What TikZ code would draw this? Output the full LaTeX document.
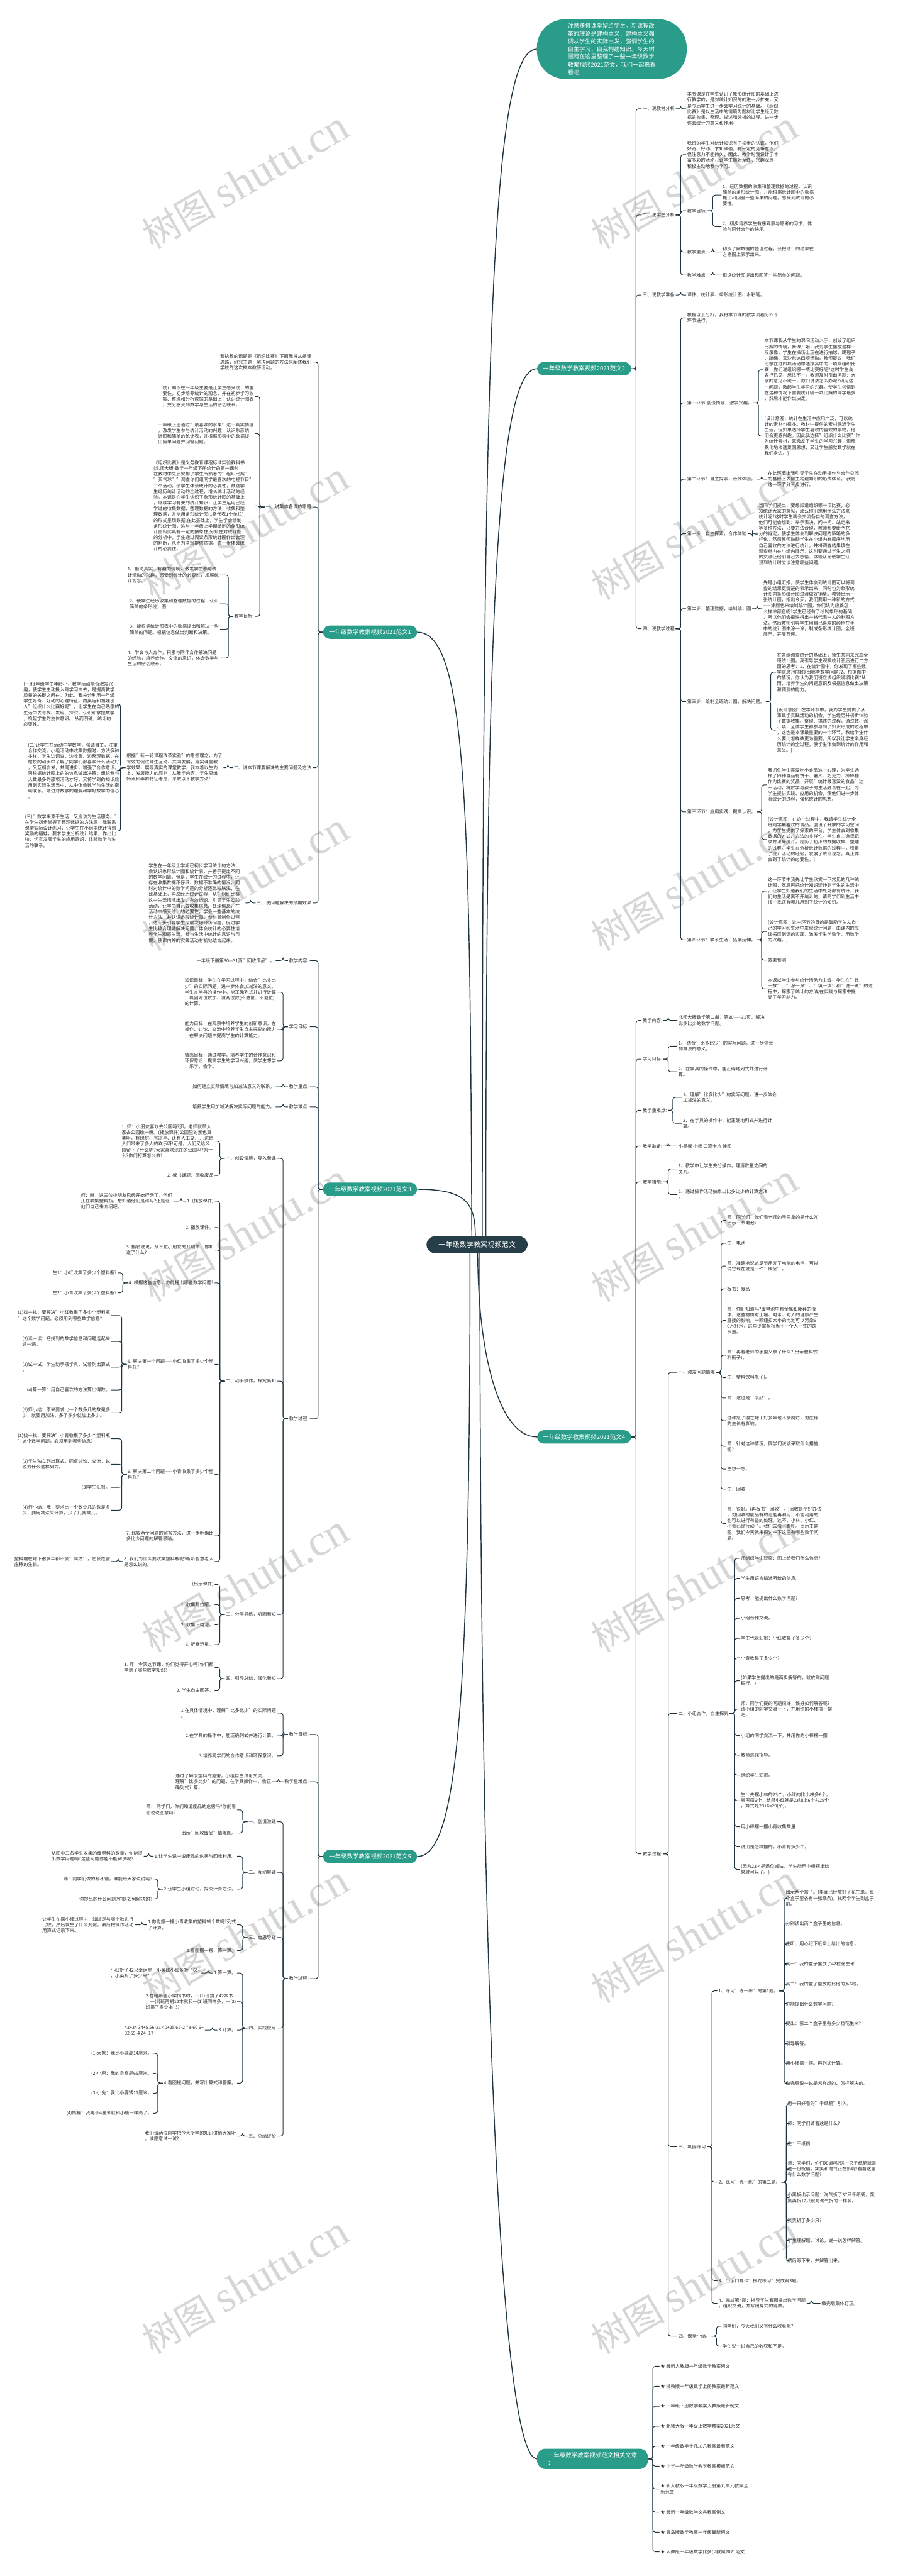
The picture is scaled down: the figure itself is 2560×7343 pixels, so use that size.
\documentclass[tikz,border=0pt]{standalone}
\usepackage{fontspec}
\setmainfont{Noto Sans CJK SC}
\newfontfamily\wmlat{Liberation Serif}
\usetikzlibrary{calc}
\definecolor{tealc}{RGB}{42,157,138}
\definecolor{darkc}{RGB}{38,62,72}
\definecolor{linec}{RGB}{30,52,62}
\definecolor{txtc}{RGB}{40,40,40}
\definecolor{wmc}{RGB}{214,214,214}
\tikzset{
  txt/.style={font=\fontsize{13}{16.4}\selectfont, text=txtc, align=left, inner xsep=3pt, inner ysep=1pt},
  W/.style={txt, anchor=west},
  E/.style={txt, anchor=east},
  br/.style={draw=linec, line width=1.8pt, rounded corners=7pt},
  mainc/.style={draw=linec, line width=2.6pt},
  tealbox/.style={fill=tealc, text=white, rounded corners=19pt, minimum width=268pt, minimum height=38pt, font=\fontsize{17}{22}\selectfont, inner sep=0pt},
  wm/.style={text=wmc, rotate=30, font=\fontsize{105}{110}\selectfont, inner sep=0pt}
}
\newcommand\kidR[2]{\foreach \c in {#2}{\draw[br] (#1.east) -- ++(14,0) |- (\c.west);}}
\newcommand\kidL[2]{\foreach \c in {#2}{\draw[br] (#1.west) -- ++(-14,0) |- (\c.east);}}
\begin{document}
\begin{tikzpicture}[x=1pt,y=-1pt]
\useasboundingbox (0,0) rectangle (2560,7343);
\fill[white] (0,0) rectangle (2560,7343);
% watermarks
\foreach \yy in {515,1515,2515,3515,4515,5515,6515}{
  \node[wm] (wmL\yy) at (700,\yy) {树图 {\wmlat\fontsize{125}{125}\selectfont shutu.cn}};
  \node[wm] (wmR\yy) at (1980,\yy) {树图 {\wmlat\fontsize{125}{125}\selectfont shutu.cn}};
}
% ---------- main nodes ----------
\node[fill=darkc, text=white, rounded corners=24pt, minimum width=288pt, minimum height=48pt, inner sep=0pt, font=\fontsize{20}{24}\selectfont] (c) at (1360,3548) {一年级数学教案视频范文};
\node[fill=tealc, text=white, rounded corners=80pt, minimum width=427pt, minimum height=170pt, inner sep=0pt, align=left, font=\fontsize{16.5}{22}\selectfont] (intro) at (1744,140) {注意多将课堂留给学生。新课程改\\革的理论是建构主义，建构主义强\\调从学生的实际出发，强调学生的\\自主学习、自我构建知识。今天树\\图网在这里整理了一些一年级数学\\教案视频2021范文，我们一起来看\\看吧!};
\node[tealbox] (R2) at (1665,1051) {一年级数学教案视频2021范文2};
\node[tealbox] (R4) at (1665,4096) {一年级数学教案视频2021范文4};
\node[tealbox] (L1) at (1055,1802) {一年级数学教案视频2021范文1};
\node[tealbox] (L3) at (1055,3390) {一年级数学教案视频2021范文3};
\node[tealbox] (L5) at (1055,5292) {一年级数学教案视频2021范文5};
\node[tealbox, minimum width=316pt, minimum height=58pt, rounded corners=24pt, align=left] (rel) at (1689,7009) {一年级数学教案视频范文相关文章\\：};
% main curves
\draw[mainc] ($(c.north)+(15,0)$) .. controls (1375,1000) and (1400,140) .. (intro.west);
\draw[mainc] ($(c.north)+(25,0)$) .. controls (1385,1700) and (1420,1051) .. (R2.west);
\draw[mainc] (L1.east) .. controls (1330,1802) and (1340,2300) .. ($(c.north)+(-15,0)$);
\draw[mainc] (L3.east) .. controls (1330,3390) and (1355,3430) .. ($(c.north)+(-5,0)$);
\draw[mainc] ($(c.south)+(2,0)$) .. controls (1362,3850) and (1420,4096) .. (R4.west);
\draw[mainc] ($(c.south)+(-20,0)$) .. controls (1340,4900) and (1300,5292) .. (L5.east);
\draw[mainc] ($(c.south)+(8,0)$) .. controls (1368,5500) and (1420,7009) .. (rel.west);
% ---------- R2 ----------
\node[W] (r2a) at (1829,310) {一、说教材分析};
\node[W] (r2b) at (1829,613) {二、说学生分析};
\node[W] (r2c) at (1829,841) {三、说教学准备};
\node[W] (r2d) at (1829,1792) {四、说教学过程};
\node[W] (r2a1) at (1956,310) {本节课是在学生认识了象形统计图的基础上进\\行教学的，是对统计知识的的进一步扩充，又\\是今后学生进一步会学习统计的基础。《组织\\比赛》是以生活中的情境为题材让学生经历数\\据的收集、整理、描述和分析的过程。进一步\\体会统计的意义和作用。};
\node[W] (r2b1) at (1956,441) {我班的学生对统计知识有了初步的认识，他们\\好奇、好动、求知欲强，有一定的竞争意识，\\但注意力不能持久，因此，教学时我设计了丰\\富多彩的活动，让学生自始至终，兴趣深厚，\\积极主动地参与学习。};
\node[W] (r2b2) at (1956,601) {教学目标:};
\node[W] (r2b3) at (1956,718) {教学重点:};
\node[W] (r2b4) at (1956,784) {教学难点:};
\node[W] (r2b21) at (2057,556) {1、经历数据的收集和整理数据的过程，认识\\简单的条形统计图，并能根据统计图中的数据\\提出和回答一些简单的问题。感受到统计的必\\要性。};
\node[W] (r2b22) at (2057,646) {2、初步培养学生有序观察与思考的习惯，体\\验与同伴合作的快乐。};
\node[W] (r2b31) at (2057,718) {初步了解数据的整理过程，会把统计的结果在\\方格图上表示出来。};
\node[W] (r2b41) at (2057,784) {根据统计图提出和回答一些简单的问题。};
\node[W] (r2c1) at (1956,841) {课件、统计表、条形统计图、水彩笔。};
\node[W] (r2d1) at (1956,906) {根据以上分析，我将本节课的教学流程分四个\\环节进行。};
\node[W] (r2d2) at (1956,1148) {第一环节:创设情境，激发兴趣。};
\node[W] (r2d3) at (1956,1366) {第二环节：自主探索，合作体验。};
\node[W] (r2d4) at (1956,1521) {第一步：自主探索，合作体验};
\node[W] (r2d5) at (1956,1735) {第二步：整理数据，绘制统计图};
\node[W] (r2d6) at (1956,2000) {第三步：绘制全班统计图，解决问题。};
\node[W] (r2d7) at (1956,2314) {第三环节：应用实践，提高认识。};
\node[W] (r2d8) at (1956,2679) {第四环节：联系生活，拓展延伸。};
\node[W] (r2d21) at (2176,1054) {本节课我从学生的课间活动入手，创设了组织\\比赛的情境，新课开始，我为学生播放这样一\\段录像，学生在操场上正在进行拍球、踢毽子\\、跳绳、丢沙包这四项活动。教师提议：我们\\班想在这四项活动中选择其中的一项来组织比\\赛，你们说组织哪一项比赛好呢?这时学生会\\各抒已见，想法不一。教师及时引出问题：大\\家的意见不统一，你们说该怎么办呢?利用这\\一问题，激起学生学习的兴趣。使学生领悟到\\在这种情况下需要统计哪一项比赛的同学最多\\，然后才能作出决定。};
\node[W] (r2d22) at (2176,1243) {[设计意图：统计在生活中应用广泛，可以统\\计的素材也很多。教材中提供的素材贴近学生\\生活，但如果选择学生喜欢的喜欢的事物，他\\们会更感兴趣。因此我选择"组织什么比赛"作\\为统计素材，既激发了学生的学习兴趣，潜移\\默化地渗透爱国思想，又让学生感觉数学就在\\我们身边。]};
\node[W] (r2d31) at (2186,1366) {在此环节上我引导学生在动手操作与合作交流\\的基础上去自主构建知识的形成体系。 我将\\这一环节分三步进行。};
\node[W] (r2d41) at (2160,1522) {当同学们提出，要想知道组织哪一项比赛，必\\须统计大家的意见，那么你们想用什么方法来\\统计呢?这时学生就会交流各自的调查方法，\\他们可能会想到：举手表决、问一问、站走来\\等多种方法，只要方法合理，教师都要给予充\\分的肯定，使学生体会到解决问题的策略的多\\样化。然后教师鼓励学生在小组内有顺序地用\\自己喜欢的方法进行统计，并将调查结果填在\\调查单内在小组内展示，这时要通过学生之间\\的交流让他们自己去感悟、体验从而使学生认\\识到统计时应该注意哪些问题。};
\node[W] (r2d51) at (2173,1735) {先是小组汇报，使学生体会到统计图可以将调\\查的结果更清楚的表示出来，同时也为象形统\\计图向条形统计图过渡做好铺垫。教师出示一\\张统计图，指出今天，我们要用一种新的方式\\——涂颜色来绘制统计图，你们认为应该怎\\么样涂颜色呢?学生已经有了绘制象形的基础\\，所以他们会很快得出一格代表一人的制图方\\法，然后教师引导学生用自己喜欢的颜色在手\\中的统计图中涂一涂，制成条形统计图。全班\\展示，开展互评。};
\node[W] (r2d61) at (2212,1916) {在各组调查统计的基础上，师生共同来完成全\\班统计图。我引导学生观察统计图后进行二方\\面的思考：1、在统计图中，你发现了哪些数\\学信息?你能提出哪些数学问题?2、根据图中\\的情况，你认为我们班应该组织哪项比赛?从\\而，培养学生的问题意识及根据信息做出决策\\和预测的能力。};
\node[W] (r2d62) at (2212,2081) {[设计意图：在本环节中，我为学生提供了从\\事数学实践活动的机会，学生经历并初步体验\\了数据收集、整理、描述的过程，通过数、涂\\、填，全体学生都参与到了知识形成的过程中\\，这也是本课最重要的一个环节，教给学生什\\么要比怎样教更为重要。所以我让学生亲身经\\历统计的全过程，使学生体会到统计的作用和\\意义。]};
\node[W] (r2d71) at (2186,2237) {我抓住学生喜爱吃小食品这一心理，为学生选\\择了四种食品有饼干、薯片、巧克力、棒棒糖\\作为比赛的奖品，开展"统计最喜爱的食品"这\\一活动，将数学与孩子的生活融合在一起，为\\学生提供实践、应用的机会，使他们进一步体\\验统计的过程，强化统计的思想。};
\node[W] (r2d72) at (2186,2393) {[设计意图：在这一过程中，我请学生统计全\\班同学最喜欢的食品，创设了开放的学习空间\\，为学生提供了探索的平台，学生体会到收集\\数据的方式、方法的多样性。学生自主选择记\\录方法来统计，经历了初步的数据收集、整理\\的过程。学生在分析统计数据的过程中，积累\\了统计活动的经验，发展了统计观念，真正体\\会到了统计的必要性。]};
\node[W] (r2d81) at (2186,2540) {这一环节中我先让学生欣赏一下常见的几种统\\计图，然后再把统计知识延伸到学生的生活中\\，让学生知道我们的生活中处处都有统计，我\\们的生活是离不开统计的，请同学们到生活中\\找一找还有哪儿用到了统计的知识。};
\node[W] (r2d82) at (2186,2655) {[设计意图：这一环节的目的是鼓励学生从自\\己的学习和生活中发现统计问题，由课内的应\\该拓展到课的实践，激发学生学数学，用数学\\的兴趣。]};
\node[W] (r2d83) at (2186,2737) {效果预测};
\node[W] (r2d84) at (2186,2819) {本课以学生参与统计活动为主线，学生在"数\\一数"、"涂一涂"、"填一填"和"说一说"的过\\程中，探索了统计的方法,在实践与探索中提\\高了学习能力。};
\kidR{R2}{r2a,r2b,r2c,r2d}
\kidR{r2a}{r2a1}
\kidR{r2b}{r2b1,r2b2,r2b3,r2b4}
\kidR{r2b2}{r2b21,r2b22}
\kidR{r2b3}{r2b31}
\kidR{r2b4}{r2b41}
\kidR{r2c}{r2c1}
\kidR{r2d}{r2d1,r2d2,r2d3,r2d4,r2d5,r2d6,r2d7,r2d8}
\kidR{r2d2}{r2d21,r2d22}
\kidR{r2d3}{r2d31}
\kidR{r2d4}{r2d41}
\kidR{r2d5}{r2d51}
\kidR{r2d6}{r2d61,r2d62}
\kidR{r2d7}{r2d71,r2d72}
\kidR{r2d8}{r2d81,r2d82,r2d83,r2d84}
% ---------- R4 ----------
\node[W] (r4a) at (1829,2909) {教学内容:};
\node[W] (r4b) at (1829,3019) {学习目标:};
\node[W] (r4c) at (1829,3165) {教学重难点:};
\node[W] (r4d) at (1829,3267) {教学准备:};
\node[W] (r4e) at (1829,3369) {教学措施:};
\node[W] (r4f) at (1829,5284) {教学过程:};
\node[W] (r4a1) at (1931,2909) {北师大版数学第二册，第30——31页，解决\\比多比少的数学问题。};
\node[W] (r4b1) at (1931,2982) {1、 结合"比多比少"的实际问题，进一步体会\\加减法的意义。};
\node[W] (r4b2) at (1931,3055) {2、在学具的操作中，能正确地列式并进行计\\算。};
\node[W] (r4c1) at (1944,3128) {1、理解"比多比少"的实际问题，进一步体会\\加减法的意义。};
\node[W] (r4c2) at (1944,3202) {2、在学具的操作中，能正确地列式并进行计\\算。};
\node[W] (r4d1) at (1931,3267) {小黑板 小棒 口算卡片 挂图};
\node[W] (r4e1) at (1931,3332) {1、教学中让学生充分操作，理清数量之间的\\关系。};
\node[W] (r4e2) at (1931,3405) {2、通过操作活动抽象出比多比少的计算方法\\。};
\node[W] (r4f1) at (1931,3912) {一、激发问题情境};
\node[W] (r4f2) at (1931,4884) {二、小组合作，自主探究};
\node[W] (r4f3) at (1931,6119) {三、巩固练习};
\node[W] (r4f4) at (1931,6659) {四、课堂小结。};
\node[W] (r4f1a) at (2070,3479) {师：同学们，你们看老师的手里拿的是什么?(\\出示一节电池)};
\node[W] (r4f1b) at (2070,3544) {生：电池};
\node[W] (r4f1c) at (2070,3609) {师：准确地说这是节用完了电能的电池，可以\\说它现在就是一件"废品"。};
\node[W] (r4f1d) at (2070,3674) {板书：废品};
\node[W] (r4f1e) at (2070,3764) {师：你们知道吗?废电池中有金属和废弃的液\\体，这些物质对土壤、对水、对人的健康产生\\直接的影响。一颗纽扣大小的电池可以污染6\\0万升水，这些少掌柜相当于一个人一生的饮\\水量。};
\node[W] (r4f1f) at (2070,3863) {师：再看老师的手里又拿了什么?(出示塑料饮\\料瓶子)。};
\node[W] (r4f1g) at (2070,3927) {生：塑料饮料瓶子)。};
\node[W] (r4f1h) at (2070,3985) {师：这也是"废品"。};
\node[W] (r4f1i) at (2070,4050) {这种瓶子埋在地下好多年也不会腐烂，对庄稼\\的生长有影响。};
\node[W] (r4f1j) at (2070,4123) {师：针对这种情况，同学们说该采取什么措施\\呢?};
\node[W] (r4f1k) at (2070,4188) {生想一想。};
\node[W] (r4f1l) at (2070,4245) {生：回收};
\node[W] (r4f1m) at (2070,4343) {师：很好。(再板书"回收"。)回收是个好办法\\，对回收的废品有的还能再利用，不能利用的\\也可以进行有益的处理。这不，小林、小红、\\小青已经行动了。我们去看一看吧。出示主题\\图，我们今天就来探讨一下这里有哪些数学问\\题。};
\node[W] (r4f2a) at (2109,4442) {师组织学生观察：图上给我们什么信息?};
\node[W] (r4f2b) at (2109,4499) {学生用语言描述所给的信息。};
\node[W] (r4f2c) at (2109,4556) {思考：能提出什么数学问题?};
\node[W] (r4f2d) at (2109,4613) {小组合作交流。};
\node[W] (r4f2e) at (2109,4670) {学生代表汇报：小红收集了多少个?};
\node[W] (r4f2f) at (2109,4726) {小青收集了多少个?};
\node[W] (r4f2g) at (2109,4791) {(如果学生提出的是两步解答的，就放到问题\\银行。)};
\node[W] (r4f2h) at (2109,4872) {师：同学们提的问题很好，该好如何解答呢?\\请小组的同学交流一下，并用你的小棒摆一摆\\吧。};
\node[W] (r4f2i) at (2109,4947) {小组的同学交流一下，并用你的小棒摆一摆};
\node[W] (r4f2j) at (2109,5003) {教师巡视指导。};
\node[W] (r4f2k) at (2109,5060) {组织学生汇报。};
\node[W] (r4f2l) at (2109,5133) {生：先摆小林的23个，小红的比小林多6个，\\就再摆6个，结果小红就是23加上6个共29个\\，算式是23+6=29(个)。};
\node[W] (r4f2m) at (2109,5207) {用小棒摆一摆小青收集数量};
\node[W] (r4f2n) at (2109,5264) {说出是怎样摆的，小青有多少个。};
\node[W] (r4f2o) at (2109,5329) {(因为23-4是退位减法，学生能用小棒摆出结\\果就可以了。)};
\node[W] (r4f31) at (2045,5675) {1、练习"练一练"的第1题。};
\node[W] (r4f32) at (2045,6220) {2、练习"练一练"的第二题。};
\node[W] (r4f33) at (2045,6501) {3、出示口算卡"接龙练习"完成第3题。};
\node[W] (r4f34) at (2045,6566) {4、完成第4题：指导学生看图提出数学问题\\，组织交流，并写出算式的得数。};
\node[W] (r4f341) at (2339,6566) {做完后集体订正。};
\node[W] (r4f31a) at (2237,5411) {出示两个盒子。(里面已经放好了花生米。每\\个盒子里各有一张纸条)。找两个学生到盒子\\前。};
\node[W] (r4f31b) at (2237,5484) {分别读出两个盒子里的信息。};
\node[W] (r4f31c) at (2237,5541) {生听、用心记下纸条上给出的信息。};
\node[W] (r4f31d) at (2237,5598) {其一：我的盒子里放了42粒花生米};
\node[W] (r4f31e) at (2237,5655) {其二：我的盒子里放的比他的多6粒。};
\node[W] (r4f31f) at (2237,5712) {你能提出什么数学问题?};
\node[W] (r4f31g) at (2237,5769) {提出：第二个盒子里有多少粒花生米?};
\node[W] (r4f31h) at (2237,5826) {引导解答。};
\node[W] (r4f31i) at (2237,5882) {用小棒摆一摆。再列式计算。};
\node[W] (r4f31j) at (2237,5939) {做完后说一说是怎样想的、怎样解决的。};
\node[W] (r4f32a) at (2242,5997) {用一只好看的"千纸鹤"引入。};
\node[W] (r4f32b) at (2242,6053) {师：同学们请看这是什么?};
\node[W] (r4f32c) at (2242,6110) {生：千纸鹤};
\node[W] (r4f32d) at (2242,6183) {师：同学们，你们知道吗?送一只千纸鹤就是\\送一份祝福，笑笑和淘气正在折呢!看看这里\\有什么数学问题?};
\node[W] (r4f32e) at (2242,6265) {小黑板出示问题：淘气折了37只千纸鹤。笑\\笑再折12只就与淘气折的一样多。};
\node[W] (r4f32f) at (2242,6330) {笑笑折了多少只?};
\node[W] (r4f32g) at (2242,6387) {学生理解题，讨论，说一说怎样解答。};
\node[W] (r4f32h) at (2242,6444) {然后写下来，并解答出来。};
\node[W] (r4f4a) at (2057,6631) {同学们，今天我们又有什么收获呢?};
\node[W] (r4f4b) at (2057,6688) {学生说一说自己的收获和不足。};
\kidR{R4}{r4a,r4b,r4c,r4d,r4e,r4f}
\kidR{r4a}{r4a1}
\kidR{r4b}{r4b1,r4b2}
\kidR{r4c}{r4c1,r4c2}
\kidR{r4d}{r4d1}
\kidR{r4e}{r4e1,r4e2}
\kidR{r4f}{r4f1,r4f2,r4f3,r4f4}
\kidR{r4f1}{r4f1a,r4f1b,r4f1c,r4f1d,r4f1e,r4f1f,r4f1g,r4f1h,r4f1i,r4f1j,r4f1k,r4f1l,r4f1m}
\kidR{r4f2}{r4f2a,r4f2b,r4f2c,r4f2d,r4f2e,r4f2f,r4f2g,r4f2h,r4f2i,r4f2j,r4f2k,r4f2l,r4f2m,r4f2n,r4f2o}
\kidR{r4f3}{r4f31,r4f32,r4f33,r4f34}
\kidR{r4f34}{r4f341}
\kidR{r4f31}{r4f31a,r4f31b,r4f31c,r4f31d,r4f31e,r4f31f,r4f31g,r4f31h,r4f31i,r4f31j}
\kidR{r4f32}{r4f32a,r4f32b,r4f32c,r4f32d,r4f32e,r4f32f,r4f32g,r4f32h}
\kidR{r4f4}{r4f4a,r4f4b}
% ---------- related ----------
\node[W] (ra) at (1880,6745) {★ 最新人教版一年级数学教案例文};
\node[W] (rb) at (1880,6802) {★ 湘教版一年级数学上册教案最新范文};
\node[W] (rc) at (1880,6859) {★ 一年级下册数学教案人教版最新例文};
\node[W] (rd) at (1880,6916) {★ 北师大版一年级上数学教案2021范文};
\node[W] (re) at (1880,6973) {★ 一年级数学十几加几教案最新范文};
\node[W] (rf) at (1880,7030) {★ 小学一年级数学教学教案模板范文};
\node[W] (rg) at (1880,7095) {★ 新人教版一年级数学上册第九单元教案全\\新范文};
\node[W] (rh) at (1880,7161) {★ 最新一年级数学文具教案例文};
\node[W] (ri) at (1880,7218) {★ 青岛版数学教案一年级最新例文};
\node[W] (rj) at (1880,7274) {★ 人教版一年级数学比多少教案2021范文};
\kidR{rel}{ra,rb,rc,rd,re,rf,rg,rh,ri,rj}
% ---------- L1 ----------
\node[E] (l1a) at (891,1032) {我执教的课题是《组织比赛》下面我将从备课\\思路，研究主题，解决问题的方法来阐述我们\\学校的这次校本教研活动。};
\node[E] (l1b) at (891,1445) {一、说集体备课的思路};
\node[E] (l1c) at (891,2188) {二、说本节课要解决的主要问题及方法};
\node[E] (l1d) at (891,2574) {三、说问题解决的预期效果};
\node[E] (l1b1) at (727,1130) {统计知识在一年级主要是让学生感受统计的重\\要性，初步培养统计的观念，并在初步学习收\\集、整理和分析数据的基础上，认识统计图表\\，充分感受到数学与生活的密切联系。};
\node[E] (l1b2) at (727,1236) {一年级上册通过"最喜欢的水果"这一真实情境\\，激发学生参与统计活动的兴趣，认识象形统\\计图和简单的统计表，并根据图表中的数据提\\出简单问题并回答问题。};
\node[E] (l1b3) at (727,1442) {《组织比赛》是义务教育课程标准实验教科书\\(北师大版)数学一年级下册统计的第一课时，\\在教材中先后安排了学生所熟悉的"组织比赛"\\"买气球""调查你们组同学最喜欢的电视节目"\\三个活动，使学生体会统计的必要性，鼓励学\\生经历统计活动的全过程，增长统计活动的经\\验。本课是在学生认识了象形统计图的基础上\\，继续学习有关的统计知识，让学生运用已经\\学过的收集数据、整理数据的方法，收集和整\\理数据，并能用条形统计图(1格代表1个单位)\\的形式呈现数据;在此基础上，学生学会绘制\\条形统计图，这与一年级上学期绘制的象形统\\计图相比具有一定的抽象性;另外在对统计图\\的分析中，学生通过阅读条形统计图作出合理\\的判断，从而为决策提供依据，进一步体会统\\计的必要性。};
\node[E] (l1b4) at (727,1757) {教学目标:};
\node[E] (l1b41) at (627,1639) {1、借助真实、有趣的情境，激发学生参与统\\计活动的兴趣，感受到统计的必要性，发展统\\计观念。};
\node[E] (l1b42) at (627,1721) {2、使学生经历收集和整理数据的过程，认识\\简单的条形统计图};
\node[E] (l1b43) at (627,1794) {3、能根据统计图表中的数据提出和解决一些\\简单的问题。根据信息做出判断和决策。};
\node[E] (l1b44) at (627,1876) {4、学会与人合作，积累与同伴合作解决问题\\的经验，培养合作、交流的意识，体会数学与\\生活的密切联系。};
\node[E] (l1c1) at (637,2188) {根据"新一轮课程改革实验"的思想理念，为了\\有效的促进师生互动、共同发展，落实课堂教\\学效果，展现真实的课堂教学，我本着以生为\\本，发展能力的原则，从教学内容、学生思维\\特点和年龄特征考虑，采取以下教学方法：};
\node[E] (l1c11) at (343,2007) {(一)低年级学生年龄小，教学活动能否激发兴\\趣，使学生主动投入到学习中去，是提高教学\\质量的关键之所在。为此，我充分利用一年级\\学生好奇、好动的心理特征。由奥运和福娃引\\入"组织什么比赛好呢"，让学生在自己熟悉的\\生活中去寻找、发现、探究，认识和掌握数学\\，唤起学生的主体意识。 从而明确，统计的\\必要性。};
\node[E] (l1c12) at (343,2197) {(二)让学生在活动中学数学，强调自主，注重\\合作交流。小组活动中收集数据时，方法多种\\多样，学生边调查、边收集、边整理数据，在\\愉悦的动手中了解了同学们都喜欢什么活动好\\，又互相启发，共同进步，增强了合作意识。\\再根据统计图上的的信息做出决策：组织参与\\人数最多的那项活动才好，又将学到的知识应\\用到实际生活当中，从中体会数学与生活的密\\切联系，增进对数学的理解和学好数学的信心\\。};
\node[E] (l1c13) at (343,2369) {(三)"数学来源于生活，又应该为生活服务。"\\在学生初步掌握了整理数据的方法后，我联系\\课堂实际设计练习，让学生在小组里统计得到\\奖励的福娃，要求学生分析统计结果，作出比\\较，切实发展学生的应用意识，体验数学与生\\活的联系。};
\node[E] (l1d1) at (700,2574) {学生在一年级上学期已初步学习统计的方法，\\会认识象形统计图和统计表，并善于提出不同\\的数学问题。但是，学生在统计的过程中，还\\存在收集数据不仔细、数据不准确的情况，同\\时对统计中的数学问题的分析还比较肤浅，在\\此基础上，再次经历统计过程，从"组织比赛"\\这一生活情境出发，有效组织、引导学生实践\\活动，让学生自己去收集信息、处理信息，在\\活动中感受统计的必要性，学会一些基本的统\\计方法。并认识条形统计图，参与其制作过程\\，进一步引导学生深层次地分析问题，促进学\\生比较合理地解决问题。体会统计的必要性培\\养学生观察生活，参与生活中统计的意识与习\\惯。使课内外的实践活动有机地结合起来。};
\kidL{L1}{l1a,l1b,l1c,l1d}
\kidL{l1b}{l1b1,l1b2,l1b3,l1b4}
\kidL{l1b4}{l1b41,l1b42,l1b43,l1b44}
\kidL{l1c}{l1c1}
\kidL{l1c1}{l1c11,l1c12,l1c13}
\kidL{l1d}{l1d1}
% ---------- L3 ----------
\node[E] (l3a) at (883,2738) {教学内容:};
\node[E] (l3b) at (883,2927) {学习目标:};
\node[E] (l3c) at (883,3098) {教学重点:};
\node[E] (l3d) at (883,3155) {教学难点:};
\node[E] (l3e) at (883,4044) {教学过程:};
\node[E] (l3a1) at (786,2738) {一年级下册第30—31页"回收废品"。};
\node[E] (l3b1) at (790,2828) {知识目标：学生在学习过程中，结合"比多比\\少"的实际问题，进一步体会加减法的意义。\\学生在学具的操作中，能正确列式并进行计算\\，巩固两位数加、减两位数(不进位、不退位)\\的计算。};
\node[E] (l3b2) at (790,2935) {能力目标：在观察中培养学生的创新意识，在\\操作、讨论、交流中培养学生自主探究的能力\\，在解决问题中提高学生的计算能力。};
\node[E] (l3b3) at (790,3024) {情感目标：通过教学，培养学生的合作意识和\\环保意识，提高学生的学习兴趣，使学生想学\\、乐学、会学。};
\node[E] (l3c1) at (786,3098) {如何建立实际情境与加减法意义的联系。};
\node[E] (l3d1) at (786,3155) {培养学生用加减法解决实际问题的能力。};
\node[E] (l3e1) at (790,3302) {一、创设情境，导入新课};
\node[E] (l3e2) at (790,3937) {二、动手操作，探究新知};
\node[E] (l3e3) at (790,4602) {三、分层导练，巩固新知};
\node[E] (l3e4) at (790,4785) {四、引导总结，强化新知};
\node[E] (l3e1a) at (612,3253) {1. 师：小朋友喜欢去公园吗?那，老师就带大\\家去公园瞧一瞧。(播放课件)公园里的景色真\\美呀，有绿树、有凉亭、还有人工湖……这给\\人们带来了多大的欢乐呀!可是，人们又给公\\园留下了什么呢?大家喜欢现在的公园吗?为什\\么?你们打算怎么做?};
\node[E] (l3e1b) at (612,3351) {2. 板书课题：回收废品};
\node[E] (l3e21) at (612,3424) {1. (播放课件)};
\node[E] (l3e22) at (612,3499) {2. 播放课件。};
\node[E] (l3e23) at (612,3563) {3. 指名说说，从三位小朋友的介绍中，你知\\道了什么?};
\node[E] (l3e24) at (612,3657) {4. 根据这些信息，你能提出哪些数学问题?};
\node[E] (l3e25) at (612,3889) {5. 解决第一个问题——小红收集了多少个塑\\料瓶?};
\node[E] (l3e26) at (612,4203) {6. 解决第二个问题——小青收集了多少个塑\\料瓶?};
\node[E] (l3e27) at (612,4378) {7. 比较两个问题的解答方法，进一步明确比\\多比少问题的解答思路。};
\node[E] (l3e28) at (612,4451) {8. 我们为什么要收集塑料瓶呢?听听智慧老人\\是怎么说的。};
\node[E] (l3e211) at (494,3424) {师：瞧，这三位小朋友已经开始行动了，他们\\正在收集塑料瓶。想知道他们是谁吗?还是让\\他们自己来介绍吧。};
\node[E] (l3e241) at (336,3628) {生1：小红收集了多少个塑料瓶?};
\node[E] (l3e242) at (336,3685) {生2：小青收集了多少个塑料瓶?};
\node[E] (l3e251) at (317,3750) {(1)找一找：要解决"小红收集了多少个塑料瓶\\"这个数学问题，必须用到哪些数学信息?};
\node[E] (l3e252) at (317,3824) {(2)读一读：把找到的数学信息和问题连起来\\读一遍。};
\node[E] (l3e253) at (317,3897) {(3)试一试：学生动手摆学具，试着列出算式\\。};
\node[E] (l3e254) at (317,3962) {(4)算一算：用自己喜欢的方法算出得数。};
\node[E] (l3e255) at (317,4027) {(5)师小结：原来要求比一个数多几的数是多\\少，就要用加法，多了多少就加上多少。};
\node[E] (l3e261) at (317,4101) {(1)找一找，要解决"小青收集了多少个塑料瓶\\"这个数学问题，必须用到哪些信息?};
\node[E] (l3e262) at (317,4174) {(2)学生独立列出算式，同桌讨论、交流，说\\说为什么这样列式。};
\node[E] (l3e263) at (317,4240) {(3)学生汇报。};
\node[E] (l3e264) at (317,4305) {(4)师小结：哦，要求比一个数少几的数是多\\少，要用减法来计算，少了几就减几。};
\node[E] (l3e281) at (317,4451) {塑料埋在地下很多年都不会"腐烂"，它会危害\\庄稼的生长。};
\node[E] (l3e3a) at (612,4517) {(出示课件)};
\node[E] (l3e3b) at (612,4574) {1. 收集易拉罐。};
\node[E] (l3e3c) at (612,4631) {2. 收集旧电池。};
\node[E] (l3e3d) at (612,4688) {3. 折幸运星。};
\node[E] (l3e4a) at (612,4753) {1. 师：今天这节课，你们觉得开心吗?你们都\\学到了哪些数学知识?};
\node[E] (l3e4b) at (612,4818) {2. 学生自由回答。};
\kidL{L3}{l3a,l3b,l3c,l3d,l3e}
\kidL{l3a}{l3a1}
\kidL{l3b}{l3b1,l3b2,l3b3}
\kidL{l3c}{l3c1}
\kidL{l3d}{l3d1}
\kidL{l3e}{l3e1,l3e2,l3e3,l3e4}
\kidL{l3e1}{l3e1a,l3e1b}
\kidL{l3e2}{l3e21,l3e22,l3e23,l3e24,l3e25,l3e26,l3e27,l3e28}
\kidL{l3e21}{l3e211}
\kidL{l3e24}{l3e241,l3e242}
\kidL{l3e25}{l3e251,l3e252,l3e253,l3e254,l3e255}
\kidL{l3e26}{l3e261,l3e262,l3e263,l3e264}
\kidL{l3e28}{l3e281}
\kidL{l3e3}{l3e3a,l3e3b,l3e3c,l3e3d}
\kidL{l3e4}{l3e4a,l3e4b}
% ---------- L5 ----------
\node[E] (l5a) at (883,4944) {教学目标:};
\node[E] (l5b) at (883,5079) {教学重难点:};
\node[E] (l5c) at (883,5640) {教学过程:};
\node[E] (l5a1) at (790,4883) {1.在具体情境中，理解"比多比少"的实际问题\\。};
\node[E] (l5a2) at (790,4948) {2.在学具的操作中，能正确列式并进行计算。};
\node[E] (l5a3) at (790,5005) {3.培养同学们的合作意识和环保意识。};
\node[E] (l5b1) at (776,5079) {通过了解废塑料的危害，小组自主讨论交流，\\理解"比多比少"的问题，在学具操作中，会正\\确列式计算。};
\node[E] (l5c1) at (790,5193) {一、创境激疑};
\node[E] (l5c2) at (790,5337) {二、互动解疑};
\node[E] (l5c3) at (790,5523) {三、启思导疑};
\node[E] (l5c4) at (790,5781) {四、实践应用};
\node[E] (l5c5) at (790,6089) {五、总结评价};
\node[E] (l5c1a) at (676,5159) {师： 同学们，你们知道废品的危害吗?你能看\\图说说图意吗?};
\node[E] (l5c1b) at (676,5225) {出示"回收废品"情境图。};
\node[E] (l5c21) at (676,5291) {1.让学生说一说废品的危害与回收利用。};
\node[E] (l5c22) at (676,5385) {2.让学生小组讨论，探究计算方法。};
\node[E] (l5c211) at (410,5291) {从图中三名学生收集的废塑料的数量，你能提\\出数学问题吗?这些问题你能不能解决呢?};
\node[E] (l5c221) at (437,5356) {师：同学们做的都不错，谁能给大家说说吗?};
\node[E] (l5c222) at (437,5413) {你提出的什么问题?你是如何解决的?};
\node[E] (l5c31) at (676,5487) {1.你能摆一摆小青收集的塑料袋个数吗?列式\\子计算。};
\node[E] (l5c32) at (676,5560) {2.看图摆一摆，算一算。};
\node[E] (l5c311) at (384,5487) {让学生在摆小棒过程中，知道是与哪个数进行\\比较，然后发生了什么变化，最后把操作活动\\用算式记录下来。};
\node[E] (l5c41) at (676,5624) {1.算一算。};
\node[E] (l5c42) at (676,5706) {2.在给希望小学捐书时，一(1)班捐了42本书\\，一(2)班再捐12本就和一(1)班同样多，一(2)\\班捐了多少本书?};
\node[E] (l5c43) at (676,5787) {3.计算。};
\node[E] (l5c44) at (676,5938) {4.看图提问题，并写出算式和答案。};
\node[E] (l5c411) at (574,5624) {小红折了42只幸运星，小英比小红多折了6只\\，小英折了多少只?};
\node[E] (l5c431) at (584,5787) {42+34 34+5 56-21 40+25 65-2 78-60 6+\\32 59-4 24+17};
\node[E] (l5c441) at (437,5853) {(1)大象：我比小鹿高14厘米。};
\node[E] (l5c442) at (437,5910) {(2)小鹿：我的身高是65厘米。};
\node[E] (l5c443) at (437,5967) {(3)小兔：我比小鹿矮11厘米。};
\node[E] (l5c444) at (437,6024) {(4)熊猫：我再长4厘米就和小鹿一样高了。};
\node[E] (l5c51) at (676,6089) {我们请两位同学把今天所学的知识讲给大家听\\，谁愿意试一试?};
\kidL{L5}{l5a,l5b,l5c}
\kidL{l5a}{l5a1,l5a2,l5a3}
\kidL{l5b}{l5b1}
\kidL{l5c}{l5c1,l5c2,l5c3,l5c4,l5c5}
\kidL{l5c1}{l5c1a,l5c1b}
\kidL{l5c2}{l5c21,l5c22}
\kidL{l5c21}{l5c211}
\kidL{l5c22}{l5c221,l5c222}
\kidL{l5c3}{l5c31,l5c32}
\kidL{l5c31}{l5c311}
\kidL{l5c4}{l5c41,l5c42,l5c43,l5c44}
\kidL{l5c41}{l5c411}
\kidL{l5c43}{l5c431}
\kidL{l5c44}{l5c441,l5c442,l5c443,l5c444}
\kidL{l5c5}{l5c51}
\end{tikzpicture}
\end{document}
